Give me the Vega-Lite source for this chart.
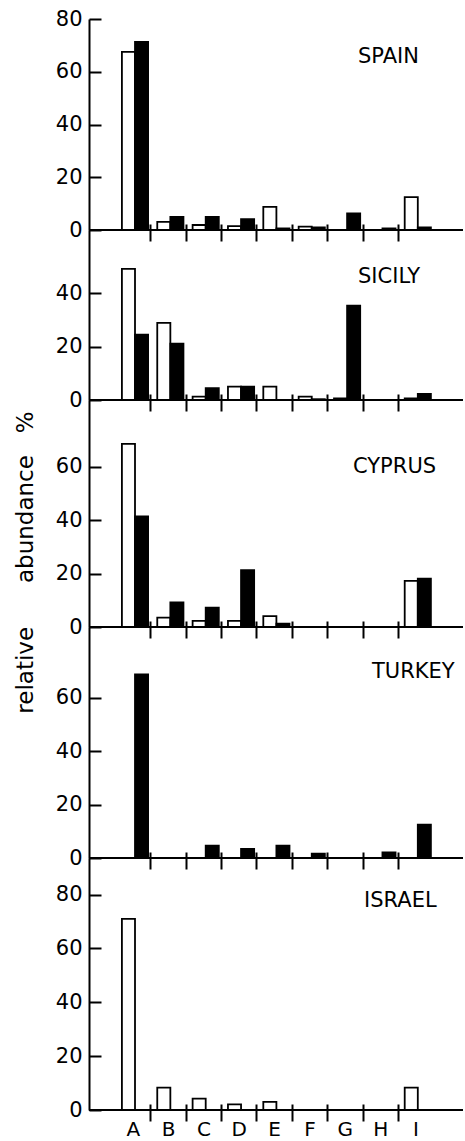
{
  "$schema": "https://vega.github.io/schema/vega-lite/v6.json",
  "background": "white",
  "padding": {"left": 14, "top": 8, "right": 0, "bottom": 0},
  "bounds": "flush",
  "spacing": 0,
  "datasets": {
    "abund": [
      {"region": "SPAIN", "cat": "A", "type": "open", "value": 67.5},
      {"region": "SPAIN", "cat": "A", "type": "solid", "value": 71.3},
      {"region": "SPAIN", "cat": "B", "type": "open", "value": 3.1},
      {"region": "SPAIN", "cat": "B", "type": "solid", "value": 5.0},
      {"region": "SPAIN", "cat": "C", "type": "open", "value": 1.9},
      {"region": "SPAIN", "cat": "C", "type": "solid", "value": 5.0},
      {"region": "SPAIN", "cat": "D", "type": "open", "value": 1.5},
      {"region": "SPAIN", "cat": "D", "type": "solid", "value": 4.1},
      {"region": "SPAIN", "cat": "E", "type": "open", "value": 8.8},
      {"region": "SPAIN", "cat": "E", "type": "solid", "value": 0.6},
      {"region": "SPAIN", "cat": "F", "type": "open", "value": 1.3},
      {"region": "SPAIN", "cat": "F", "type": "solid", "value": 1.0},
      {"region": "SPAIN", "cat": "G", "type": "solid", "value": 6.3},
      {"region": "SPAIN", "cat": "H", "type": "solid", "value": 0.6},
      {"region": "SPAIN", "cat": "I", "type": "open", "value": 12.5},
      {"region": "SPAIN", "cat": "I", "type": "solid", "value": 1.0},
      {"region": "SICILY", "cat": "A", "type": "open", "value": 49.2},
      {"region": "SICILY", "cat": "A", "type": "solid", "value": 24.5},
      {"region": "SICILY", "cat": "B", "type": "open", "value": 28.9},
      {"region": "SICILY", "cat": "B", "type": "solid", "value": 21.1},
      {"region": "SICILY", "cat": "C", "type": "open", "value": 1.3},
      {"region": "SICILY", "cat": "C", "type": "solid", "value": 4.4},
      {"region": "SICILY", "cat": "D", "type": "open", "value": 5.0},
      {"region": "SICILY", "cat": "D", "type": "solid", "value": 5.0},
      {"region": "SICILY", "cat": "E", "type": "open", "value": 5.0},
      {"region": "SICILY", "cat": "F", "type": "open", "value": 1.3},
      {"region": "SICILY", "cat": "F", "type": "solid", "value": 0.3},
      {"region": "SICILY", "cat": "G", "type": "open", "value": 0.6},
      {"region": "SICILY", "cat": "G", "type": "solid", "value": 35.4},
      {"region": "SICILY", "cat": "I", "type": "open", "value": 0.6},
      {"region": "SICILY", "cat": "I", "type": "solid", "value": 2.3},
      {"region": "CYPRUS", "cat": "A", "type": "open", "value": 68.6},
      {"region": "CYPRUS", "cat": "A", "type": "solid", "value": 41.4},
      {"region": "CYPRUS", "cat": "B", "type": "open", "value": 3.5},
      {"region": "CYPRUS", "cat": "B", "type": "solid", "value": 9.2},
      {"region": "CYPRUS", "cat": "C", "type": "open", "value": 2.3},
      {"region": "CYPRUS", "cat": "C", "type": "solid", "value": 7.2},
      {"region": "CYPRUS", "cat": "D", "type": "open", "value": 2.3},
      {"region": "CYPRUS", "cat": "D", "type": "solid", "value": 21.3},
      {"region": "CYPRUS", "cat": "E", "type": "open", "value": 4.1},
      {"region": "CYPRUS", "cat": "E", "type": "solid", "value": 1.3},
      {"region": "CYPRUS", "cat": "I", "type": "open", "value": 17.3},
      {"region": "CYPRUS", "cat": "I", "type": "solid", "value": 18.1},
      {"region": "TURKEY", "cat": "A", "type": "solid", "value": 68.8},
      {"region": "TURKEY", "cat": "C", "type": "solid", "value": 4.6},
      {"region": "TURKEY", "cat": "D", "type": "solid", "value": 3.4},
      {"region": "TURKEY", "cat": "E", "type": "solid", "value": 4.6},
      {"region": "TURKEY", "cat": "F", "type": "solid", "value": 1.6},
      {"region": "TURKEY", "cat": "H", "type": "solid", "value": 2.1},
      {"region": "TURKEY", "cat": "I", "type": "solid", "value": 12.5},
      {"region": "ISRAEL", "cat": "A", "type": "open", "value": 71.0},
      {"region": "ISRAEL", "cat": "B", "type": "open", "value": 8.3},
      {"region": "ISRAEL", "cat": "C", "type": "open", "value": 4.2},
      {"region": "ISRAEL", "cat": "D", "type": "open", "value": 2.1},
      {"region": "ISRAEL", "cat": "E", "type": "open", "value": 3.0},
      {"region": "ISRAEL", "cat": "I", "type": "open", "value": 8.3}
    ]
  },
  "config": {
    "font": "DejaVu Sans",
    "view": {"stroke": null},
    "axis": {
      "domainColor": "black", "domainWidth": 2,
      "tickColor": "black", "tickWidth": 2,
      "labelColor": "black", "labelFont": "DejaVu Sans", "labelFontSize": 21,
      "grid": false, "titleColor": "black", "titleFont": "DejaVu Sans"
    },
    "title": {"font": "DejaVu Sans", "fontSize": 21, "fontWeight": "normal", "color": "black", "anchor": "start", "frame": "group", "offset": 0, "baseline": "alphabetic"}
  },
  "vconcat": [
    {
      "width": 374, "height": 211,
      "title": {"text": "SPAIN", "dx": 269, "dy": 63},
      "data": {"name": "abund"},
      "transform": [{"filter": "datum.region === 'SPAIN'"}],
      "layer": [
        {
          "mark": {"type": "bar", "stroke": "black", "strokeWidth": 1.8},
          "encoding": {
            "x": {"field": "cat", "type": "nominal", "scale": {"domain": ["A","B","C","D","E","F","G","H","I"], "paddingInner": 0, "paddingOuter": 0.79, "align": 0.476},
                  "axis": {"title": null, "labels": false, "domain": false, "offset": -6, "tickSize": 17, "bandPosition": 0, "tickOpacity": {"condition": {"test": "datum.value === 'A'", "value": 0}, "value": 1}}},
            "xOffset": {"field": "type", "type": "nominal", "scale": {"domain": ["open","solid"], "paddingInner": 0, "paddingOuter": 0.35, "align": 0.69}},
            "y": {"field": "value", "type": "quantitative", "scale": {"domain": [0, 80], "nice": false},
                  "axis": {"title": null, "values": [0,10,20,30,40,50,60,70,80], "labelExpr": "datum.value % 20 === 0 ? datum.label : ''", "tickSize": {"condition": {"test": "datum.value % 20 === 0", "value": -12}, "value": -5}, "labelPadding": 19}},
            "fill": {"field": "type", "type": "nominal", "scale": {"domain": ["open","solid"], "range": ["white","black"]}, "legend": null}
          }
        },
        {"mark": {"type": "rule", "color": "black", "strokeWidth": 2}, "encoding": {"y": {"datum": 0}}}
      ]
    },
    {
      "width": 374, "height": 170,
      "title": {"text": "SICILY", "dx": 269, "dy": 61},
      "data": {"name": "abund"},
      "transform": [{"filter": "datum.region === 'SICILY'"}],
      "layer": [
        {
          "mark": {"type": "bar", "stroke": "black", "strokeWidth": 1.8},
          "encoding": {
            "x": {"field": "cat", "type": "nominal", "scale": {"domain": ["A","B","C","D","E","F","G","H","I"], "paddingInner": 0, "paddingOuter": 0.79, "align": 0.476},
                  "axis": {"title": null, "labels": false, "domain": false, "offset": -6, "tickSize": 17, "bandPosition": 0, "tickOpacity": {"condition": {"test": "datum.value === 'A'", "value": 0}, "value": 1}}},
            "xOffset": {"field": "type", "type": "nominal", "scale": {"domain": ["open","solid"], "paddingInner": 0, "paddingOuter": 0.35, "align": 0.69}},
            "y": {"field": "value", "type": "quantitative", "scale": {"domain": [0, 63.75], "nice": false},
                  "axis": {"title": null, "values": [0,10,20,30,40,50], "labelExpr": "datum.value % 20 === 0 ? datum.label : ''", "tickSize": {"condition": {"test": "datum.value % 20 === 0", "value": -12}, "value": -5}, "labelPadding": 19}},
            "fill": {"field": "type", "type": "nominal", "scale": {"domain": ["open","solid"], "range": ["white","black"]}, "legend": null}
          }
        },
        {"mark": {"type": "rule", "color": "black", "strokeWidth": 2}, "encoding": {"y": {"datum": 0}}}
      ]
    },
    {
      "width": 374, "height": 227,
      "title": {"text": "CYPRUS", "dx": 264, "dy": 81},
      "data": {"name": "abund"},
      "transform": [{"filter": "datum.region === 'CYPRUS'"}],
      "layer": [
        {
          "mark": {"type": "bar", "stroke": "black", "strokeWidth": 1.8},
          "encoding": {
            "x": {"field": "cat", "type": "nominal", "scale": {"domain": ["A","B","C","D","E","F","G","H","I"], "paddingInner": 0, "paddingOuter": 0.79, "align": 0.476},
                  "axis": {"title": null, "labels": false, "domain": false, "offset": -6, "tickSize": 17, "bandPosition": 0, "tickOpacity": {"condition": {"test": "datum.value === 'A'", "value": 0}, "value": 1}}},
            "xOffset": {"field": "type", "type": "nominal", "scale": {"domain": ["open","solid"], "paddingInner": 0, "paddingOuter": 0.35, "align": 0.69}},
            "y": {"field": "value", "type": "quantitative", "scale": {"domain": [0, 85], "nice": false},
                  "axis": {"title": "relative\u00a0\u00a0\u00a0\u00a0\u00a0\u00a0abundance\u00a0\u00a0\u00a0%", "titleFontSize": 23, "titleFontWeight": "normal", "titleAngle": -90, "titleBaseline": "alphabetic", "titleAlign": "center", "titleX": -57, "titleY": 162,
                           "values": [0,10,20,30,40,50,60,70], "labelExpr": "datum.value % 20 === 0 ? datum.label : ''", "tickSize": {"condition": {"test": "datum.value % 20 === 0", "value": -12}, "value": -5}, "labelPadding": 19}},
            "fill": {"field": "type", "type": "nominal", "scale": {"domain": ["open","solid"], "range": ["white","black"]}, "legend": null}
          }
        },
        {"mark": {"type": "rule", "color": "black", "strokeWidth": 2}, "encoding": {"y": {"datum": 0}}}
      ]
    },
    {
      "width": 374, "height": 231,
      "title": {"text": "TURKEY", "dx": 283, "dy": 59},
      "data": {"name": "abund"},
      "transform": [{"filter": "datum.region === 'TURKEY'"}],
      "layer": [
        {
          "mark": {"type": "bar", "stroke": "black", "strokeWidth": 1.8},
          "encoding": {
            "x": {"field": "cat", "type": "nominal", "scale": {"domain": ["A","B","C","D","E","F","G","H","I"], "paddingInner": 0, "paddingOuter": 0.79, "align": 0.476},
                  "axis": {"title": null, "labels": false, "domain": false, "offset": -6, "tickSize": 17, "bandPosition": 0, "tickOpacity": {"condition": {"test": "datum.value === 'A'", "value": 0}, "value": 1}}},
            "xOffset": {"field": "type", "type": "nominal", "scale": {"domain": ["open","solid"], "paddingInner": 0, "paddingOuter": 0.35, "align": 0.69}},
            "y": {"field": "value", "type": "quantitative", "scale": {"domain": [0, 86.6], "nice": false},
                  "axis": {"title": null, "values": [0,10,20,30,40,50,60,70], "labelExpr": "datum.value % 20 === 0 ? datum.label : ''", "tickSize": {"condition": {"test": "datum.value % 20 === 0", "value": -12}, "value": -5}, "labelPadding": 19}},
            "fill": {"field": "type", "type": "nominal", "scale": {"domain": ["open","solid"], "range": ["white","black"]}, "legend": null}
          }
        },
        {"mark": {"type": "rule", "color": "black", "strokeWidth": 2}, "encoding": {"y": {"datum": 0}}}
      ]
    },
    {
      "width": 374, "height": 252,
      "title": {"text": "ISRAEL", "dx": 275, "dy": 57},
      "data": {"name": "abund"},
      "transform": [{"filter": "datum.region === 'ISRAEL'"}],
      "layer": [
        {
          "mark": {"type": "bar", "stroke": "black", "strokeWidth": 1.8},
          "encoding": {
            "x": {"field": "cat", "type": "nominal", "scale": {"domain": ["A","B","C","D","E","F","G","H","I"], "paddingInner": 0, "paddingOuter": 0.79, "align": 0.476},
                  "axis": {"title": null, "labels": true, "labelAngle": 0, "labelFontSize": 20, "labelPadding": -2, "domain": false, "offset": -6, "tickSize": 17, "bandPosition": 0, "tickOpacity": {"condition": {"test": "datum.value === 'A'", "value": 0}, "value": 1}}},
            "xOffset": {"field": "type", "type": "nominal", "scale": {"domain": ["open","solid"], "paddingInner": 0, "paddingOuter": 0.35, "align": 0.69}},
            "y": {"field": "value", "type": "quantitative", "scale": {"domain": [0, 93.6], "nice": false},
                  "axis": {"title": null, "values": [0,10,20,30,40,50,60,70,80], "labelExpr": "datum.value % 20 === 0 ? datum.label : ''", "tickSize": {"condition": {"test": "datum.value % 20 === 0", "value": -12}, "value": -5}, "labelPadding": 19}},
            "fill": {"field": "type", "type": "nominal", "scale": {"domain": ["open","solid"], "range": ["white","black"]}, "legend": null}
          }
        },
        {"mark": {"type": "rule", "color": "black", "strokeWidth": 2}, "encoding": {"y": {"datum": 0}}}
      ]
    }
  ]
}
